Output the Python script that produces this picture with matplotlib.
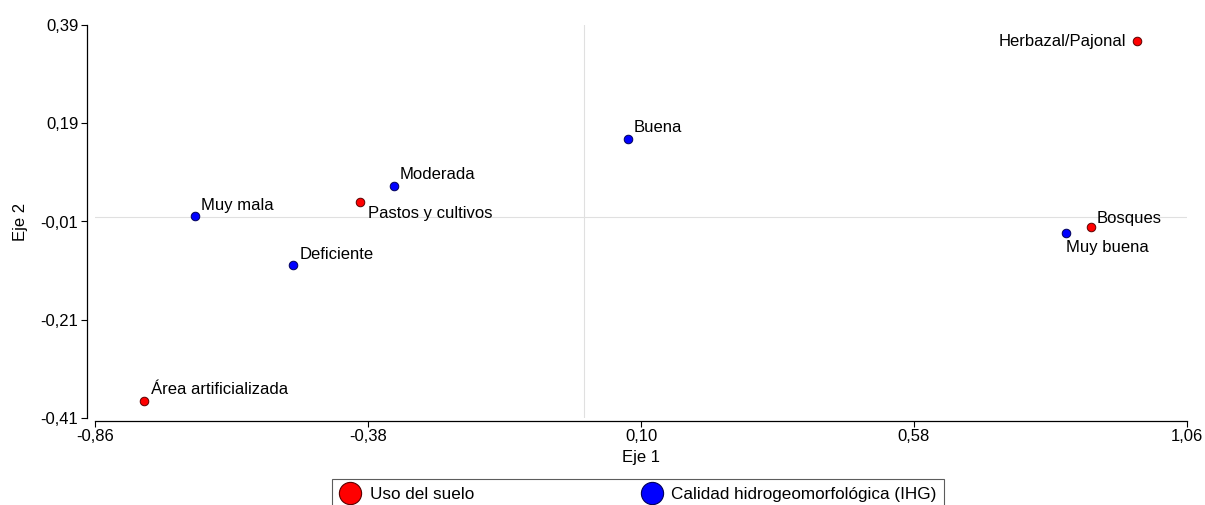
import matplotlib
matplotlib.use("Agg")
import matplotlib.pyplot as plt
from matplotlib.lines import Line2D
from matplotlib.ticker import FuncFormatter

plt.rcParams["font.family"] = ["Liberation Sans", "DejaVu Sans"]

# Datos: coordenadas en los ejes 1 y 2
uso_etiquetas = ["Herbazal/Pajonal", "Pastos y cultivos", "Área artificializada", "Bosques"]
uso_x = [0.972, -0.394, -0.774, 0.891]
uso_y = [0.357, 0.030, -0.375, -0.021]

ihg_etiquetas = ["Buena", "Moderada", "Muy mala", "Deficiente", "Muy buena"]
ihg_x = [0.077, -0.334, -0.684, -0.512, 0.847]
ihg_y = [0.158, 0.062, 0.001, -0.099, -0.033]

x_ticks = [-0.86, -0.38, 0.10, 0.58, 1.06]
y_ticks = [0.39, 0.19, -0.01, -0.21, -0.41]

# desplazamientos de las etiquetas (en puntos)
offsets = {
    "Herbazal/Pajonal": (-8, 0, "right", "center"),
    "Pastos y cultivos": (6, -3, "left", "top"),
    "Área artificializada": (5, 3, "left", "bottom"),
    "Bosques": (4, 1, "left", "bottom"),
    "Buena": (4, 3, "left", "bottom"),
    "Moderada": (4, 3, "left", "bottom"),
    "Muy mala": (4, 2, "left", "bottom"),
    "Deficiente": (5, 2, "left", "bottom"),
    "Muy buena": (0, -5, "left", "top"),
}

fig = plt.figure(figsize=(12.05, 5.05), dpi=100)
ax = fig.add_axes([95 / 1205, 1 - 418 / 505, 1092 / 1205, 393 / 505])

ax.axvline(0, color="#e0e0e0", lw=0.8, zorder=0)
ax.axhline(0, color="#e0e0e0", lw=0.8, zorder=0)

ax.scatter(uso_x, uso_y, s=38, color="#ff0000", edgecolor="#5a0000", linewidth=0.7, zorder=3)
ax.scatter(ihg_x, ihg_y, s=38, color="#0000ff", edgecolor="#00005a", linewidth=0.7, zorder=3)

for etiquetas, xs, ys in [(uso_etiquetas, uso_x, uso_y), (ihg_etiquetas, ihg_x, ihg_y)]:
    for lab, x, y in zip(etiquetas, xs, ys):
        dx, dy, ha, va = offsets[lab]
        ax.annotate(lab, (x, y), xytext=(dx, dy), textcoords="offset points",
                    ha=ha, va=va, fontsize=12, color="#000000")

ax.set_xlim(-0.86, 1.06)
ax.set_ylim(-0.41, 0.39)
ax.set_xticks(x_ticks)
ax.set_yticks(y_ticks)
coma = FuncFormatter(lambda v, p: f"{v:.2f}".replace(".", ","))
ax.xaxis.set_major_formatter(coma)
ax.yaxis.set_major_formatter(coma)
ax.tick_params(labelsize=12, length=4, width=0.8, colors="#000000", pad=2)

for s in ["top", "right"]:
    ax.spines[s].set_visible(False)
ax.spines["left"].set_position(("outward", 6))
ax.spines["bottom"].set_position(("outward", 2))
ax.spines["left"].set_linewidth(0.9)
ax.spines["bottom"].set_linewidth(0.9)

ax.set_xlabel("Eje 1", fontsize=12, labelpad=4)
ax.set_ylabel("Eje 2", fontsize=12, labelpad=9)

handles = [
    Line2D([], [], marker="o", ls="", markersize=16, markerfacecolor="#ff0000",
           markeredgecolor="#5a0000", markeredgewidth=0.8, label="Uso del suelo"),
    Line2D([], [], marker="o", ls="", markersize=16, markerfacecolor="#0000ff",
           markeredgecolor="#00005a", markeredgewidth=0.8, label="Calidad hidrogeomorfológica (IHG)"),
]
leg = fig.legend(handles=handles, loc="upper left", bbox_to_anchor=(332 / 1205, 1 - 479 / 505),
                 ncol=2, fontsize=12.3, frameon=True, fancybox=False, columnspacing=9.8,
                 handletextpad=0.55, borderpad=0.45, handlelength=1.2, borderaxespad=0)
leg.get_frame().set_edgecolor("#333333")
leg.get_frame().set_linewidth(0.8)

fig.savefig("out.png", dpi=100)
